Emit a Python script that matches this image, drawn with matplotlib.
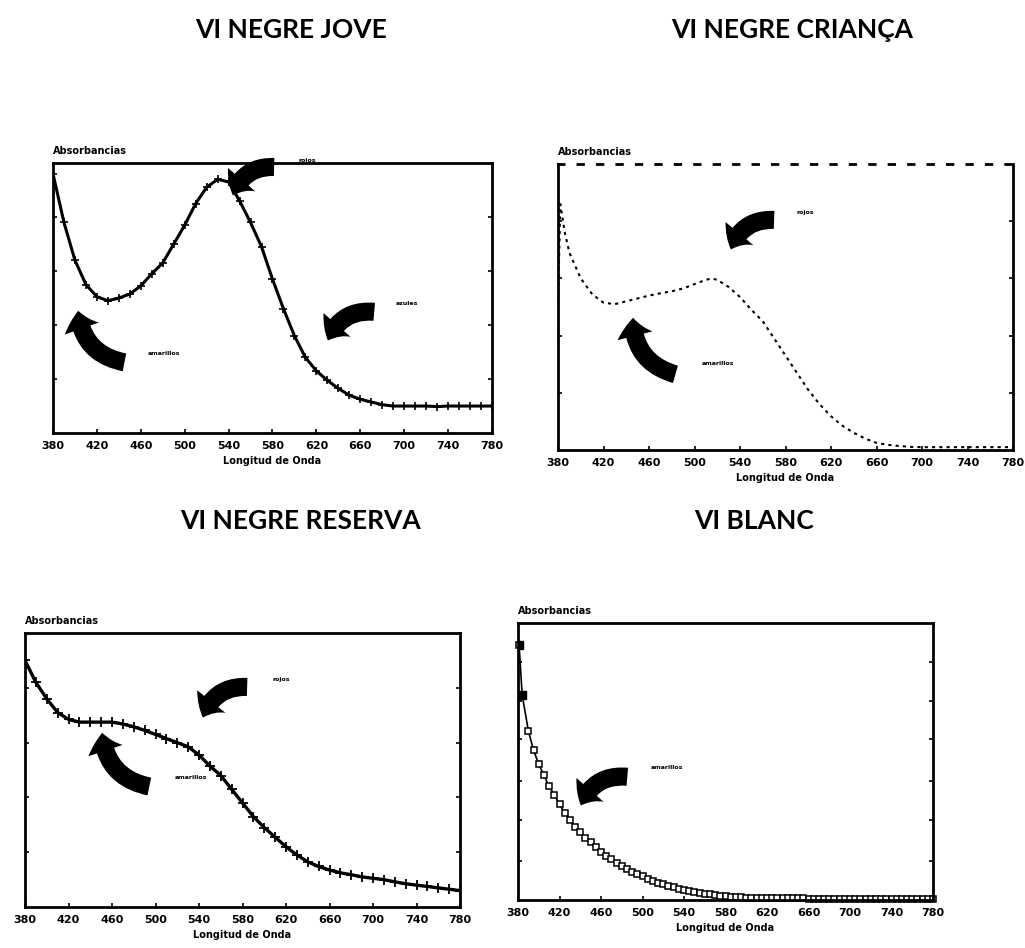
import numpy as np
import matplotlib
matplotlib.use('Agg')
import matplotlib.pyplot as plt
from matplotlib.patches import FancyArrowPatch

# Espectres d'absorció UV-Vis (unitats arbitràries, 0-1)
titols = ['VI NEGRE JOVE', 'VI NEGRE CRIANÇA', 'VI NEGRE RESERVA', 'VI BLANC']
ticks_nm = [380, 420, 460, 500, 540, 580, 620, 660, 700, 740, 780]

nm_jove = [380, 390, 400, 410, 420, 430, 440, 450, 460, 470, 480, 490, 500, 510,
           520, 530, 540, 550, 560, 570, 580, 590, 600, 610, 620, 630, 640, 650,
           660, 670, 680, 690, 700, 710, 720, 730, 740, 750, 760, 770, 780]
abs_jove = [0.96, 0.78, 0.64, 0.55, 0.505, 0.49, 0.50, 0.515, 0.545, 0.59, 0.63,
            0.70, 0.77, 0.85, 0.91, 0.94, 0.93, 0.86, 0.78, 0.69, 0.57, 0.46,
            0.36, 0.28, 0.23, 0.195, 0.165, 0.14, 0.125, 0.115, 0.105, 0.10,
            0.10, 0.10, 0.10, 0.098, 0.10, 0.10, 0.10, 0.10, 0.10]

nm_crianca = [380, 382, 386, 390, 400, 410, 420, 430, 440, 450, 460, 470, 480,
              490, 500, 510, 515, 520, 530, 540, 550, 560, 570, 580, 590, 600,
              610, 620, 630, 640, 650, 660, 670, 680, 690, 700, 710, 720, 730,
              740, 750, 760, 770, 780]
abs_crianca = [0.50, 0.86, 0.76, 0.69, 0.60, 0.545, 0.515, 0.51, 0.52, 0.53,
               0.54, 0.548, 0.555, 0.565, 0.58, 0.595, 0.60, 0.595, 0.57, 0.535,
               0.49, 0.45, 0.39, 0.33, 0.27, 0.21, 0.16, 0.118, 0.085, 0.06,
               0.04, 0.025, 0.018, 0.014, 0.011, 0.01, 0.01, 0.01, 0.01, 0.01,
               0.01, 0.01, 0.01, 0.01]

nm_reserva = nm_jove
abs_reserva = [0.90, 0.82, 0.76, 0.71, 0.685, 0.675, 0.675, 0.675, 0.675, 0.668,
               0.658, 0.645, 0.63, 0.615, 0.60, 0.585, 0.555, 0.515, 0.48, 0.43,
               0.38, 0.33, 0.29, 0.255, 0.22, 0.19, 0.165, 0.148, 0.135, 0.125,
               0.118, 0.11, 0.105, 0.10, 0.092, 0.085, 0.08, 0.075, 0.07, 0.065,
               0.06]

nm_blanc = [381, 384, 390, 395, 400, 405, 410, 415, 420, 425, 430, 435, 440, 445,
            450, 455, 460, 465, 470, 475, 480, 485, 490, 495, 500, 505, 510, 515,
            520, 525, 530, 535, 540, 545, 550, 555, 560, 565, 570, 575, 580, 585,
            590, 595, 600, 605, 610, 615, 620, 625, 630, 635, 640, 645, 650, 655,
            660, 665, 670, 675, 680, 685, 690, 695, 700, 705, 710, 715, 720, 725,
            730, 735, 740, 745, 750, 755, 760, 765, 770, 775, 780]
abs_blanc = [0.92, 0.74, 0.61, 0.54, 0.49, 0.45, 0.41, 0.38, 0.345, 0.315, 0.29,
             0.265, 0.245, 0.225, 0.21, 0.19, 0.175, 0.16, 0.148, 0.135, 0.122,
             0.112, 0.102, 0.093, 0.085, 0.077, 0.07, 0.063, 0.057, 0.051, 0.046,
             0.041, 0.037, 0.033, 0.029, 0.026, 0.023, 0.020, 0.018, 0.016, 0.014,
             0.012, 0.011, 0.010, 0.009, 0.009, 0.008, 0.008, 0.007, 0.007, 0.007,
             0.006, 0.006, 0.006, 0.006, 0.006, 0.005, 0.005, 0.005, 0.005, 0.005,
             0.005, 0.005, 0.005, 0.005, 0.005, 0.005, 0.005, 0.005, 0.005, 0.005,
             0.005, 0.005, 0.005, 0.005, 0.005, 0.005, 0.005, 0.005, 0.005, 0.005]

fig = plt.figure(figsize=(10.25, 9.48), dpi=100)

caixes = [[0.0517, 0.5432, 0.4283, 0.2848],
          [0.5444, 0.5253, 0.4439, 0.3017],
          [0.0244, 0.0432, 0.4244, 0.2890],
          [0.5054, 0.0506, 0.4049, 0.2922]]
pos_titols = [(0.284, 0.968), (0.773, 0.968), (0.293, 0.450), (0.736, 0.450)]


def fletxa(ax, cua, punta, rad):
    # fletxa negra corbada i gruixuda
    p = FancyArrowPatch(cua, punta, transform=ax.transAxes,
                        connectionstyle=f'arc3,rad={rad}',
                        arrowstyle='simple,head_length=13,head_width=26,tail_width=13',
                        mutation_scale=1, color='black', lw=0, clip_on=False)
    ax.add_patch(p)


def etiqueta(ax, x, y, txt):
    ax.text(x, y, txt, transform=ax.transAxes, fontsize=4.5, fontweight='bold',
            va='center', ha='left')


axs = []
for i, c in enumerate(caixes):
    ax = fig.add_axes(c)
    ax.set_xlim(380, 780)
    ax.set_ylim(0, 1)
    ax.set_xticks(ticks_nm)
    ax.set_xticklabels([str(t) for t in ticks_nm], fontsize=8, fontweight='bold')
    ax.set_yticks([0.2, 0.4, 0.6, 0.8])
    ax.set_yticklabels([])
    ax.tick_params(direction='in', length=3, width=1.2, pad=6, right=True)
    for s in ax.spines.values():
        s.set_linewidth(2)
    ax.text(0.0, 1.025, 'Absorbancias', transform=ax.transAxes, fontsize=7,
            fontweight='bold', va='bottom', ha='left')
    ax.set_xlabel('Longitud de Onda', fontsize=7, fontweight='bold', labelpad=3)
    fig.text(*pos_titols[i], titols[i], fontsize=19, fontweight='bold',
             family='Lato', ha='center', va='center')
    axs.append(ax)

ax1, ax2, ax3, ax4 = axs

# Vi negre jove
ax1.plot(nm_jove, abs_jove, color='black', lw=2.2, marker='+', ms=6, mew=1.2)
fletxa(ax1, (0.51, 0.985), (0.408, 0.87), 0.4)
etiqueta(ax1, 0.56, 1.01, 'rojos')
fletxa(ax1, (0.738, 0.448), (0.624, 0.333), 0.4)
etiqueta(ax1, 0.78, 0.478, 'azules')
fletxa(ax1, (0.169, 0.26), (0.057, 0.463), -0.4)
etiqueta(ax1, 0.215, 0.296, 'amarillos')

# Vi negre criança
ax2.plot(nm_crianca, abs_crianca, color='black', lw=1.5, ls=(0, (1.5, 2)))
ax2.spines['top'].set_linestyle((0, (2, 5)))
fletxa(ax2, (0.481, 0.804), (0.378, 0.692), 0.4)
etiqueta(ax2, 0.525, 0.832, 'rojos')
fletxa(ax2, (0.264, 0.262), (0.165, 0.472), -0.4)
etiqueta(ax2, 0.315, 0.304, 'amarillos')

# Vi negre reserva
ax3.plot(nm_reserva, abs_reserva, color='black', lw=2.4, marker='+', ms=7, mew=1.3)
fletxa(ax3, (0.517, 0.803), (0.407, 0.682), 0.4)
etiqueta(ax3, 0.57, 0.832, 'rojos')
fletxa(ax3, (0.292, 0.438), (0.177, 0.646), -0.4)
etiqueta(ax3, 0.345, 0.474, 'amarillos')

# Vi blanc
ax4.set_yticks([0.14, 0.29, 0.43, 0.58, 0.72, 0.86])
ax4.set_yticklabels([])
ax4.plot(nm_blanc, abs_blanc, color='black', lw=1.2, marker='s', ms=5,
         mfc='white', mew=1.1, clip_on=False)
ax4.plot(nm_blanc[:2], abs_blanc[:2], ls='none', marker='s', ms=6, color='black')
fletxa(ax4, (0.27, 0.444), (0.149, 0.332), 0.4)
etiqueta(ax4, 0.32, 0.48, 'amarillos')

fig.savefig('out.png', dpi=100)
